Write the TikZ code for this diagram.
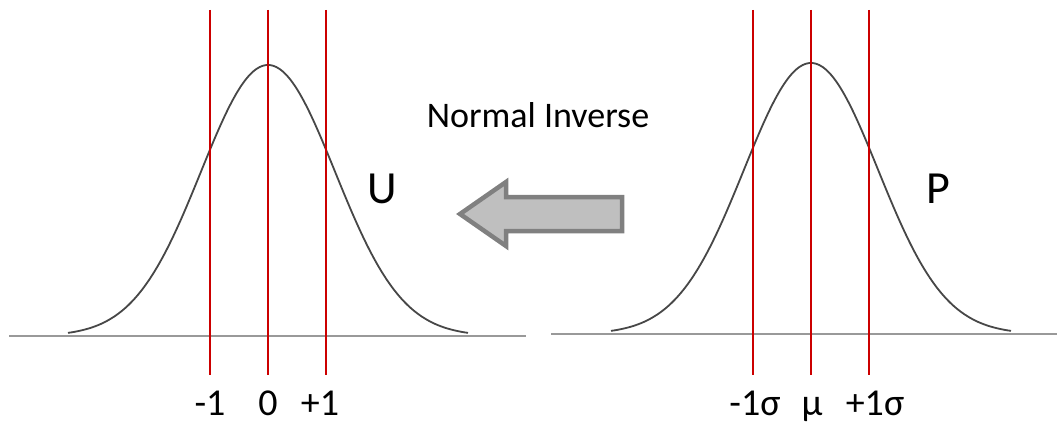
\documentclass[tikz,border=0pt]{standalone}
\usepackage{fontspec}
\setmainfont{Carlito}
\begin{document}
\begin{tikzpicture}[x=1pt,y=-1pt,
  curve/.style={draw=black!72, line width=1.8pt},
  axisline/.style={draw=black!40, line width=2.8pt},
  redline/.style={draw=red!80!black, line width=1.6pt},
  lbl/.style={font=\fontsize{38}{38}\selectfont, anchor=base, inner sep=0pt},
  big/.style={font=\fontsize{46}{46}\selectfont, anchor=base, inner sep=0pt}]
\useasboundingbox (0,0) rectangle (1057,425);
% axes
\draw[axisline] (9,336) -- (526,336);
\draw[axisline] (551,334) -- (1057,334);
% curves
\draw[curve] plot[domain=-200:200, samples=120, smooth] ({268+\x}, {336-271*exp(-0.5*(\x/67)*(\x/67))});
\draw[curve] plot[domain=-200:200, samples=120, smooth] ({811+\x}, {334-271*exp(-0.5*(\x/67)*(\x/67))});
% red lines
\foreach \xx in {210,268,326,753,811,869} \draw[redline] (\xx,10) -- (\xx,375);
% arrow
\draw[draw=black!50, fill=black!25, line width=4.5pt, line join=miter]
  (460,214) -- (506,182) -- (506,197) -- (622,197) -- (622,231) -- (506,231) -- (506,246) -- cycle;
% labels
\node[font=\fontsize{36}{36}\selectfont, anchor=base, inner sep=0pt] (ni) at (538,128) {Normal Inverse};
\node[big] (u) at (382,203) {U};
\node[big] (p) at (938,203) {P};
\node[lbl] (m1) at (210,415) {-1};
\node[lbl] (z) at (268,415) {0};
\node[lbl] (p1) at (320,415) {+1};
\node[lbl] (ms) at (755,415) {-1σ};
\node[lbl] (mu) at (812,415) {μ};
\node[lbl] (ps) at (875,415) {+1σ};
\end{tikzpicture}
\end{document}
